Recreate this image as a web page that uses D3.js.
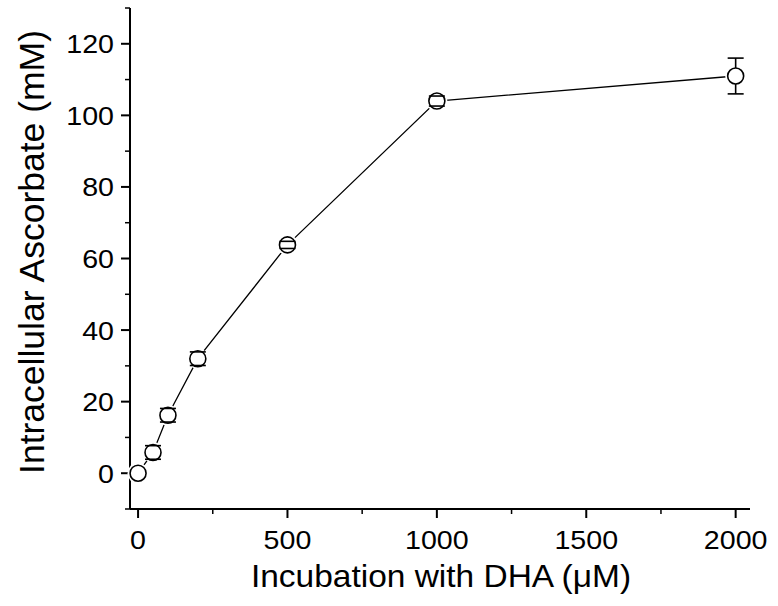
<!DOCTYPE html>
<html>
<head>
<meta charset="utf-8">
<script src="https://cdn.jsdelivr.net/npm/d3@7"></script>
<style>
  body { margin: 0; background: #fff; }
  text { font-family: "Liberation Sans", Arial, sans-serif; fill: #000; }
</style>
</head>
<body>
<svg id="chart" width="778" height="606"></svg>
<script>
// data
var dhaConc = [0, 50, 100, 200, 500, 1000, 2000];
var ascorbate = [0, 5.8, 16.2, 32, 63.8, 104, 111];
var ascErr = [0, 1.9, 1.9, 1.9, 1.0, 1.4, 5];
var xTicks = [0, 500, 1000, 1500, 2000];
var yTicks = [0, 20, 40, 60, 80, 100, 120];
var xTitle = "Incubation with DHA (\u03BCM)";
var yTitle = "Intracellular Ascorbate (mM)";

var svg = d3.select("#chart");

var x = d3.scaleLinear().domain([-27, 2048]).range([130, 750]);
var y = d3.scaleLinear().domain([-10, 130]).range([509, 8]);

var points = dhaConc.map(function (d, i) {
    return { x: d, y: ascorbate[i], e: ascErr[i] };
});

// axes
var xAxis = svg.append("g").attr("transform", "translate(0,509)");
xAxis.append("line")
    .attr("x1", 130).attr("x2", 750)
    .attr("stroke", "#000").attr("stroke-width", 2);
xAxis.selectAll(".major")
    .data(xTicks).enter().append("line")
    .attr("x1", function (d) { return x(d); })
    .attr("x2", function (d) { return x(d); })
    .attr("y1", 0).attr("y2", 9)
    .attr("stroke", "#000").attr("stroke-width", 2);
xAxis.selectAll(".minor")
    .data(d3.range(250, 2001, 500)).enter().append("line")
    .attr("x1", function (d) { return x(d); })
    .attr("x2", function (d) { return x(d); })
    .attr("y1", 0).attr("y2", 5)
    .attr("stroke", "#000").attr("stroke-width", 1.5);
xAxis.selectAll("text")
    .data(xTicks).enter().append("text")
    .attr("text-anchor", "middle")
    .attr("transform", function (d) { return "translate(" + x(d) + ",40) scale(1.1,1)"; })
    .style("font-size", "26px")
    .text(function (d) { return d; });

var yAxis = svg.append("g").attr("transform", "translate(130,0)");
yAxis.append("line")
    .attr("y1", 8).attr("y2", 509)
    .attr("stroke", "#000").attr("stroke-width", 2);
yAxis.selectAll(".major")
    .data(yTicks).enter().append("line")
    .attr("y1", function (d) { return y(d); })
    .attr("y2", function (d) { return y(d); })
    .attr("x1", 0).attr("x2", -9)
    .attr("stroke", "#000").attr("stroke-width", 2);
yAxis.selectAll(".minor")
    .data(d3.range(-10, 131, 20)).enter().append("line")
    .attr("y1", function (d) { return y(d); })
    .attr("y2", function (d) { return y(d); })
    .attr("x1", 0).attr("x2", -5)
    .attr("stroke", "#000").attr("stroke-width", 1.5);
yAxis.selectAll("text")
    .data(yTicks).enter().append("text")
    .attr("text-anchor", "end")
    .attr("transform", function (d) { return "translate(-16," + (y(d) + 9.5) + ") scale(1.1,1)"; })
    .style("font-size", "26px")
    .text(function (d) { return d; });

// titles
svg.append("text")
    .attr("text-anchor", "middle")
    .attr("transform", "translate(441,587) scale(1.08,1)")
    .style("font-size", "31px")
    .text(xTitle);
svg.append("text")
    .attr("text-anchor", "middle")
    .attr("transform", "translate(44,252) rotate(-90)")
    .style("font-size", "35.5px")
    .text(yTitle);

// connecting line
var line = d3.line()
    .x(function (d) { return x(d.x); })
    .y(function (d) { return y(d.y); });
svg.append("path")
    .datum(points)
    .attr("d", line)
    .attr("fill", "none")
    .attr("stroke", "#000")
    .attr("stroke-width", 1.3);

// markers
svg.append("g").selectAll("circle")
    .data(points).enter().append("circle")
    .attr("cx", function (d) { return x(d.x); })
    .attr("cy", function (d) { return y(d.y); })
    .attr("r", 10.5)
    .attr("fill", "#fff");
svg.append("g").selectAll("circle")
    .data(points).enter().append("circle")
    .attr("cx", function (d) { return x(d.x); })
    .attr("cy", function (d) { return y(d.y); })
    .attr("r", 8)
    .attr("fill", "#fff")
    .attr("stroke", "#000")
    .attr("stroke-width", 1.6);

// error bars
var eb = svg.append("g").selectAll("g")
    .data(points.filter(function (d) { return d.e > 0; })).enter().append("g");
eb.append("line")
    .attr("x1", function (d) { return x(d.x); })
    .attr("x2", function (d) { return x(d.x); })
    .attr("y1", function (d) { return d.e > 3 ? y(d.y) - 8 : y(d.y + d.e); })
    .attr("y2", function (d) { return y(d.y + d.e); })
    .attr("stroke", "#000").attr("stroke-width", 1.6);
eb.append("line")
    .attr("x1", function (d) { return x(d.x); })
    .attr("x2", function (d) { return x(d.x); })
    .attr("y1", function (d) { return d.e > 3 ? y(d.y) + 8 : y(d.y - d.e); })
    .attr("y2", function (d) { return y(d.y - d.e); })
    .attr("stroke", "#000").attr("stroke-width", 1.6);
eb.selectAll(".cap")
    .data(function (d) { return [d.y + d.e, d.y - d.e].map(function (v) { return { x: d.x, v: v }; }); })
    .enter().append("line")
    .attr("x1", function (d) { return x(d.x) - 8; })
    .attr("x2", function (d) { return x(d.x) + 8; })
    .attr("y1", function (d) { return y(d.v); })
    .attr("y2", function (d) { return y(d.v); })
    .attr("stroke", "#000").attr("stroke-width", 1.6);
</script>
</body>
</html>
